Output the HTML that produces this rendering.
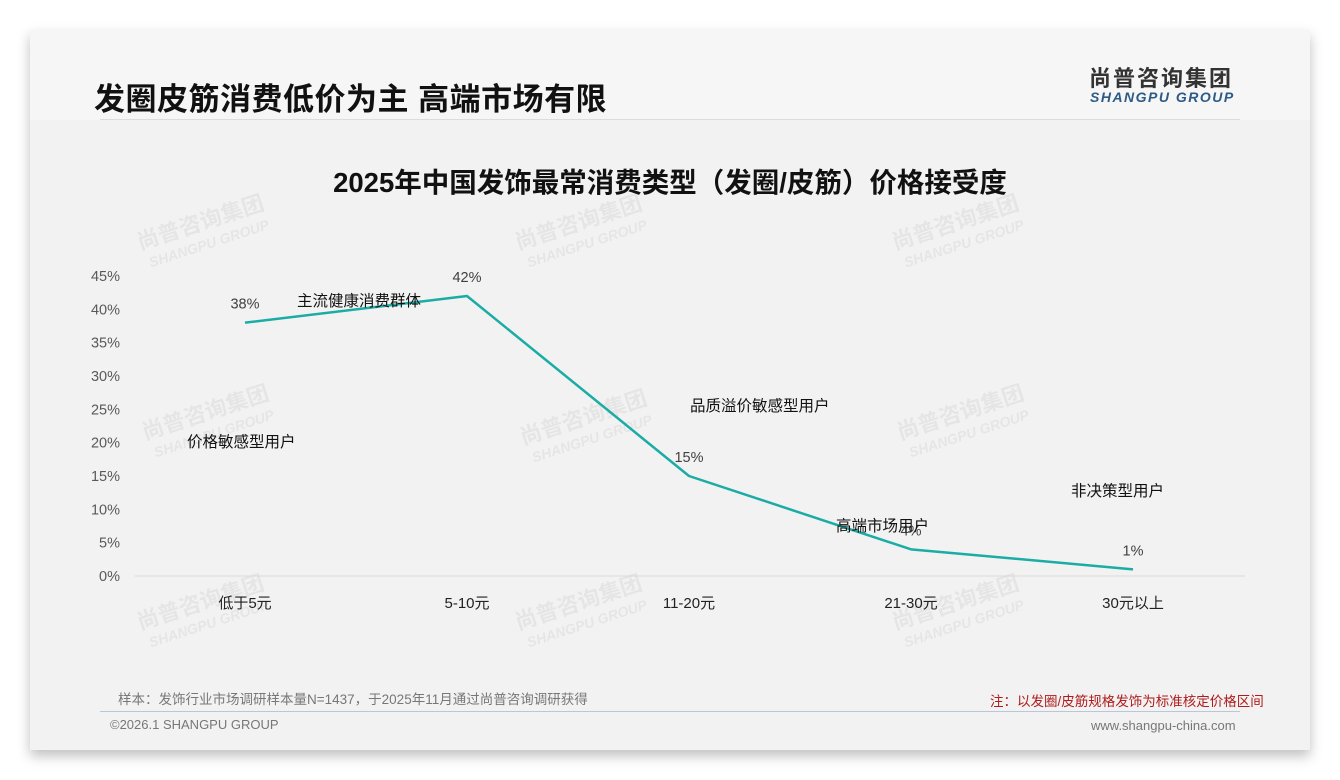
<!DOCTYPE html>
<html><head><meta charset="utf-8">
<style>
body{margin:0;width:1340px;height:780px;background:#fff;font-family:"Liberation Sans","Noto Sans CJK SC",sans-serif;position:relative;overflow:hidden}
#card{position:absolute;left:30px;top:30px;width:1280px;height:720px;background:#f2f2f2;box-shadow:0 6px 12px rgba(0,0,0,.25)}
#top{position:absolute;left:0;top:0;width:1280px;height:90px;background:#f6f6f6}
.abs{position:absolute;white-space:nowrap}
</style></head><body>
<div id="card">
<div id="top"></div>
</div>
<div class="abs" style="left:94px;top:74px;font-size:31px;font-weight:bold;color:#111;letter-spacing:0.5px">发圈皮筋消费低价为主 高端市场有限</div>
<div class="abs" style="left:1089px;top:61px;font-size:22px;font-weight:bold;color:#333;letter-spacing:2px">尚普咨询集团</div>
<div class="abs" style="left:1090px;top:89px;font-size:14px;font-weight:bold;font-style:italic;color:#2d5a86;letter-spacing:1.5px">SHANGPU GROUP</div>
<div class="abs" style="left:100px;top:119px;width:1140px;height:1px;background:#dcdcdc"></div>
<div class="abs" style="left:0;width:1340px;text-align:center;top:160px;font-size:27.5px;font-weight:bold;color:#111">2025年中国发饰最常消费类型（发圈/皮筋）价格接受度</div>
<svg id="chart" width="1340" height="780" style="position:absolute;left:0;top:0"></svg>
<div class="abs" style="left:118px;top:688px;font-size:13.5px;color:#777">样本：发饰行业市场调研样本量N=1437，于2025年11月通过尚普咨询调研获得</div>
<div class="abs" style="left:990px;top:690px;font-size:13.5px;color:#b01c1c">注：以发圈/皮筋规格发饰为标准核定价格区间</div>
<div class="abs" style="left:100px;top:711px;width:1140px;height:1px;background:#b8c8d8"></div>
<div class="abs" style="left:110px;top:717px;font-size:13px;color:#777">©2026.1 SHANGPU GROUP</div>
<div class="abs" style="left:1091px;top:718px;font-size:13px;color:#777">www.shangpu-china.com</div>
<script>
const categories=["低于5元","5-10元","11-20元","21-30元","30元以上"];
const values=[38,42,15,4,1];
const yTicks=[0,5,10,15,20,25,30,35,40,45];
const notes=["价格敏感型用户","主流健康消费群体","品质溢价敏感型用户","高端市场用户","非决策型用户"];
const notePos=[[187,442],[297,301],[690,406],[836,526],[1071,491]];
const svg=document.getElementById('chart');const NS='http://www.w3.org/2000/svg';
const x0=245,dx=222,y0=576,ppu=300/45;
const X=i=>x0+i*dx, Y=v=>y0-v*ppu;
function mk(t,a,txt){const e=document.createElementNS(NS,t);for(const k in a)e.setAttribute(k,a[k]);if(txt!=null)e.textContent=txt;svg.appendChild(e);return e;}
[[140,250],[518,250],[895,250],[145,440],[523,445],[900,440],[140,630],[518,630],[895,630]].forEach(p=>{
 const g=mk('text',{x:p[0],y:p[1],'font-size':22,'font-weight':'bold',fill:'rgba(0,0,0,0.05)',transform:`rotate(-18 ${p[0]} ${p[1]})`},'尚普咨询集团');
 
 const g2=mk('text',{x:p[0]+5,y:p[1]+20,'font-size':14,'font-weight':'bold','font-style':'italic',fill:'rgba(0,0,0,0.05)',transform:`rotate(-18 ${p[0]} ${p[1]})`},'SHANGPU GROUP');
 
});
const ax=mk('line',{x1:135,x2:1245,y1:y0,y2:y0,stroke:'#d9d9d9','stroke-width':1});

yTicks.forEach(t=>{const e=mk('text',{x:120,y:Y(t)+5,'text-anchor':'end','font-size':14.5,fill:'#595959'},t+'%');
 });
categories.forEach((c,i)=>{const e=mk('text',{x:X(i),y:608,'text-anchor':'middle','font-size':15,fill:'#222'},c);
 });
const line=mk('polyline',{points:values.map((v,i)=>X(i)+','+Y(v)).join(' '),fill:'none',stroke:'#1aaca5','stroke-width':2.5,'stroke-linejoin':'round'});

values.forEach((v,i)=>{const e=mk('text',{x:X(i),y:Y(v)-14,'text-anchor':'middle','font-size':14.5,fill:'#404040'},v+'%');
 });
notes.forEach((n,i)=>{const e=mk('text',{x:notePos[i][0],y:notePos[i][1]+5,'font-size':15.5,fill:'#111'},n);
 });
</script>
</body></html>
